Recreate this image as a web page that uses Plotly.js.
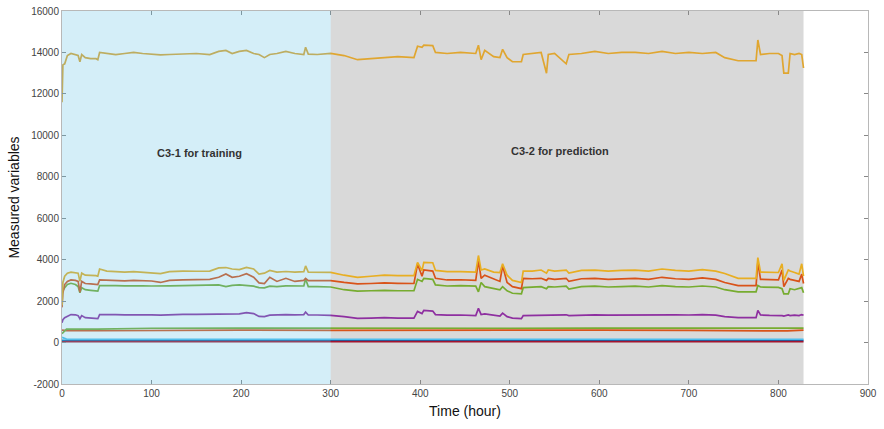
<!DOCTYPE html>
<html>
<head>
<meta charset="utf-8">
<script src="https://cdn.plot.ly/plotly-3.0.1.min.js"></script>
<style>html,body{margin:0;padding:0;background:#fff;}#chart{width:884px;height:429px;}</style>
</head>
<body>
<div id="chart"></div>
<script>
// Time axis (hours) shared by the fluctuating series
const hours = [0,1,3,6,10,15,18,20,22,26,32,38,40,42,50,60,70,80,90,100,
  110,120,135,150,165,175,183,190,198,206,214,220,226,232,240,250,260,270,272,275,
  285,300,315,330,345,360,375,393,397,402,404,414,417,430,445,462,465,468,472,482,
  489,492,497,503,513,515,525,535,541,543,550,563,566,580,595,610,625,640,655,670,
  685,700,715,730,740,755,775,777,780,790,800,804,806,811,813,818,823,826,828];

const goldTop = [11600,13400,13450,13850,13950,13900,13850,13550,13900,13750,13700,13700,13650,14000,13950,13900,13950,14000,13950,13900,
  13880,13900,13920,13950,13900,14050,14100,13950,14050,14100,13950,13900,13750,13900,13950,14050,13950,13900,14250,13920,
  13900,13950,13850,13650,13700,13750,13800,13750,14300,14250,14350,14330,14000,13950,14000,13950,14350,13650,14100,13800,
  13750,14150,13750,13550,13550,13900,13950,14000,13000,13900,13950,13450,13900,13950,14050,13950,14000,14000,13950,14050,
  13950,14000,13950,14000,13750,13600,13600,14600,13900,13950,13950,13850,13000,13000,13950,13900,13950,13900,13250];

const goldMid = [1800,2900,3200,3350,3400,3380,3350,2950,3350,3250,3250,3230,3200,3550,3450,3420,3400,3420,3400,3380,
  3330,3420,3450,3440,3450,3600,3620,3550,3520,3630,3550,3300,3350,3480,3400,3430,3400,3420,3700,3400,
  3400,3390,3250,3150,3200,3250,3230,3230,3870,3470,3870,3850,3480,3420,3420,3400,4200,3500,3550,3400,
  3380,3800,3250,3000,2900,3450,3450,3500,3350,3500,3450,3500,3350,3480,3500,3450,3480,3500,3450,3550,
  3480,3450,3520,3450,3330,3100,3100,4100,3400,3400,3380,3800,3000,3500,3450,3380,3300,3800,3200];

const orangeMid = [1700,2400,2800,2950,3020,3000,2950,2430,2950,2850,2830,2830,2800,3020,3000,2990,2980,3000,2980,2970,
  2900,3000,3020,3030,3050,3150,3310,3150,3200,3320,3150,2880,2850,3150,2950,3100,2950,3000,3100,2990,
  2980,2990,2900,2830,2850,2880,2860,2850,3790,3200,3500,3450,3100,3020,3030,3000,3950,3100,3250,3050,
  2950,3700,2900,2700,2600,3100,3080,3100,3000,3100,3050,3100,2950,3080,3100,3050,3080,3100,3050,3150,
  3080,3050,3120,3050,2900,2750,2750,3870,3050,3050,3030,3500,2700,3100,3050,3000,2950,3300,2850];

const greenMid = [2300,2500,2650,2800,2860,2800,2700,2400,2650,2550,2520,2500,2480,2750,2760,2750,2740,2750,2740,2730,
  2720,2740,2750,2750,2760,2780,2700,2760,2780,2750,2720,2650,2640,2720,2700,2740,2720,2730,3070,2700,
  2700,2680,2550,2480,2500,2520,2500,2500,3050,2950,3100,3050,2780,2730,2750,2720,2450,2900,2700,2600,
  2550,2700,2500,2380,2350,2650,2680,2700,2600,2700,2680,2720,2580,2700,2720,2680,2700,2720,2680,2750,
  2700,2680,2730,2680,2550,2450,2450,2750,2680,2680,2660,2600,2350,2350,2600,2550,2600,2650,2400];

const purpleMid = [950,1100,1200,1280,1350,1340,1300,1150,1300,1200,1170,1150,1150,1350,1360,1350,1340,1350,1350,1340,
  1320,1350,1360,1360,1370,1400,1380,1390,1380,1440,1400,1260,1250,1320,1340,1350,1340,1350,1470,1330,
  1330,1310,1250,1170,1180,1200,1180,1180,1500,1400,1550,1520,1350,1320,1330,1300,1650,1350,1380,1300,
  1280,1420,1250,1180,1150,1300,1310,1320,1310,1330,1320,1340,1300,1330,1340,1320,1330,1340,1320,1360,
  1340,1330,1350,1320,1250,1200,1200,1550,1330,1310,1320,1300,1280,1330,1300,1320,1300,1350,1320];

// Near-flat low series
const hoursLow = [0,5,40,100,200,300,400,500,600,700,790,810,828];
const greenLow  = [430,650,650,690,700,690,700,690,700,690,690,680,700];
const orangeLow = [600,580,570,590,600,590,600,590,600,590,590,560,600];
const cyanLow   = [250,170,160,160,165,160,160,160,165,160,160,160,160];
const blueLow   = [110,100,100,100,100,100,100,100,100,100,100,100,100];
const redLow    = [40,45,45,45,45,45,45,45,45,45,45,45,45];

const xTicks = [0,100,200,300,400,500,600,700,800,900];
const yTicks = [-2000,0,2000,4000,6000,8000,10000,12000,14000,16000];
const yTickText = ['-2000','0','2000','4000','6000','8000','10000','12000','14000','16000'];

const trainEnd = 300, predEnd = 828;

function line(x, y, color) {
  return {x: x, y: y, type: 'scatter', mode: 'lines', line: {color: color, width: 1.7}, hoverinfo: 'skip'};
}

const traces = [
  line(hoursLow, blueLow, '#0072BD'),
  line(hoursLow, cyanLow, '#4DBEEE'),
  line(hoursLow, redLow, '#A2142F'),
  line(hoursLow, orangeLow, '#D95319'),
  line(hoursLow, greenLow, '#77AC30'),
  line(hours, purpleMid, '#8E2FA0'),
  line(hours, greenMid, '#77AC30'),
  line(hours, orangeMid, '#D95319'),
  line(hours, goldMid, '#E8AE22'),
  line(hours, goldTop, '#E0A630')
];

const font = {family: 'Liberation Sans, Arial, sans-serif', size: 10, color: '#444'};
const titleFont = {family: 'Liberation Sans, Arial, sans-serif', size: 14, color: '#111'};

const layout = {
  width: 884, height: 429,
  margin: {l: 62, r: 16, t: 11, b: 45},
  paper_bgcolor: '#ffffff',
  plot_bgcolor: '#ffffff',
  showlegend: false,
  font: font,
  xaxis: {
    range: [0, 900], tickvals: xTicks, ticktext: xTicks.map(String),
    ticks: 'inside', ticklen: 4, tickcolor: '#888', tickwidth: 1,
    showline: true, linecolor: '#b8b8b8', linewidth: 1, mirror: 'ticks',
    showgrid: false, zeroline: false, tickfont: font,
    title: {text: 'Time (hour)', font: titleFont, standoff: 8}
  },
  yaxis: {
    range: [-2000, 16000], tickvals: yTicks, ticktext: yTickText,
    ticks: 'inside', ticklen: 4, tickcolor: '#888', tickwidth: 1,
    showline: true, linecolor: '#b8b8b8', linewidth: 1, mirror: 'ticks',
    showgrid: false, zeroline: false, tickfont: font,
    title: {text: 'Measured variables', font: titleFont, standoff: 8}
  },
  shapes: [
    {type: 'rect', xref: 'x', yref: 'paper', x0: trainEnd, x1: predEnd, y0: 0, y1: 1,
     fillcolor: '#d9d9d9', line: {width: 0}, layer: 'below'},
    {type: 'rect', xref: 'x', yref: 'paper', x0: 0, x1: trainEnd, y0: 0, y1: 1,
     fillcolor: 'rgb(95,192,228)', opacity: 0.27, line: {width: 0}, layer: 'above'}
  ],
  annotations: [
    {x: 154, y: 9150, xref: 'x', yref: 'y', text: '<b>C3-1 for training</b>', showarrow: false,
     font: {family: 'Liberation Sans, Arial, sans-serif', size: 11, color: '#333'}},
    {x: 556, y: 9250, xref: 'x', yref: 'y', text: '<b>C3-2 for prediction</b>', showarrow: false,
     font: {family: 'Liberation Sans, Arial, sans-serif', size: 11, color: '#333'}}
  ]
};

Plotly.newPlot('chart', traces, layout, {displayModeBar: false, staticPlot: true});
</script>
</body>
</html>
